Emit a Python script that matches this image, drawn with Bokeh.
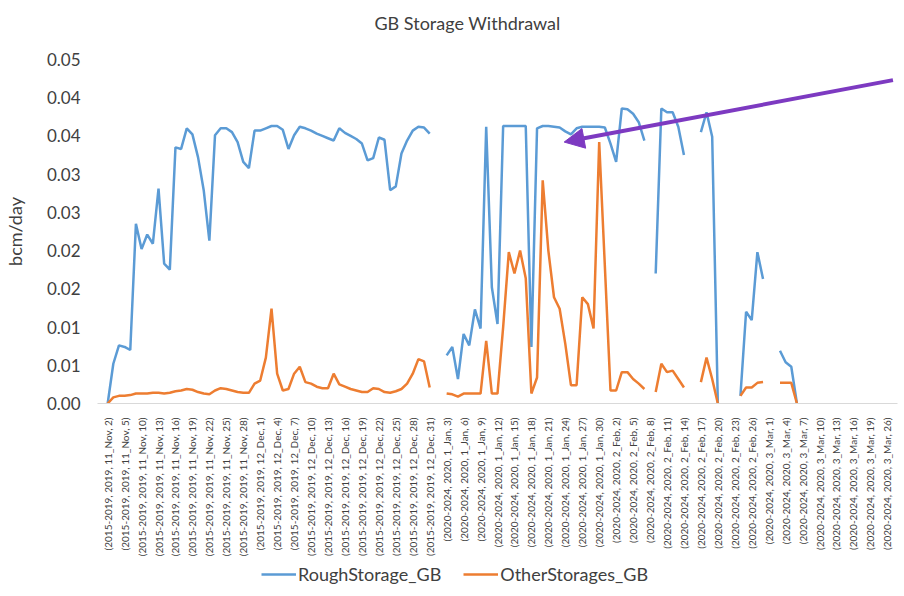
import numpy as np
from bokeh.plotting import figure
from bokeh.layouts import column
from bokeh.models import (Range1d, FixedTicker, Legend, LegendItem, Arrow,
                          NormalHead, Label, ColumnDataSource)
from bokeh.embed import file_html
from bokeh.resources import INLINE

nan = float("nan")

# ---- categories (period, year, month, day) ----
nov_days = [2, 3, 4, 5, 8, 9] + list(range(10, 31))
dec_days = list(range(1, 32))
jan_days = list(range(1, 32))
feb_days = list(range(1, 29))
mar_days = list(range(1, 20)) + [21, 24, 26]

categories = (
    [f"(2015-2019, 2019, 11_Nov, {d})" for d in nov_days]
    + [f"(2015-2019, 2019, 12_Dec, {d})" for d in dec_days]
    + [f"(2020-2024, 2020, 1_Jan, {d})" for d in jan_days]
    + [f"(2020-2024, 2020, 2_Feb, {d})" for d in feb_days]
    + [f"(2020-2024, 2020, 3_Mar, {d})" for d in mar_days]
)

# ---- series values (bcm/day) ----
rough_storage_gb = [
    0.0, 0.0052, 0.0076, 0.0074, 0.0070, 0.0235, 0.0202, 0.0221, 0.0209, 0.0281,
    0.0183, 0.0175, 0.0335, 0.0333, 0.0360, 0.0352, 0.0322, 0.0279, 0.0213, 0.0351,
    0.0360, 0.0360, 0.0355, 0.0342, 0.0316, 0.0308, 0.0357, 0.0357, 0.0360, 0.0363,
    0.0363, 0.0358, 0.0333, 0.0351, 0.0362, 0.0360, 0.0357, 0.0353, 0.0350, 0.0347,
    0.0344, 0.0360, 0.0354, 0.0350, 0.0346, 0.0340, 0.0318, 0.0321, 0.0348, 0.0345,
    0.0279, 0.0284, 0.0327, 0.0344, 0.0357, 0.0362, 0.0361, 0.0353,
    nan, nan,
    0.0063, 0.0074, 0.0032, 0.0091, 0.0076, 0.0123, 0.0098, 0.0362, 0.0152, 0.0104,
    0.0363, 0.0363, 0.0363, 0.0363, 0.0363, 0.0074, 0.0360, 0.0363, 0.0363, 0.0362,
    0.0361, 0.0356, 0.0352, 0.0360, 0.0362, 0.0362, 0.0362, 0.0362, 0.0361, 0.0340,
    0.0316, 0.0386, 0.0385, 0.0379, 0.0368, 0.0344, nan, 0.0170, 0.0386, 0.0381,
    0.0381, 0.0362, 0.0325, nan, nan, 0.0355, 0.0381, 0.0349, 0.0, nan,
    nan, nan, 0.0010, 0.0120, 0.0109, 0.0198, 0.0163, nan, nan, 0.0069,
    0.0054, 0.0048, 0.0,
    nan, nan, nan, nan, nan, nan, nan, nan, nan, nan, nan, nan, nan, nan, nan, nan,
]

other_storages_gb = [
    0.0, 0.0008, 0.0010, 0.0010, 0.0011, 0.0013, 0.0013, 0.0013, 0.0014, 0.0014,
    0.0013, 0.0014, 0.0016, 0.0017, 0.0019, 0.0018, 0.0015, 0.0013, 0.0012, 0.0017,
    0.0020, 0.0019, 0.0017, 0.0015, 0.0014, 0.0014, 0.0026, 0.0030, 0.0060, 0.0124,
    0.0039, 0.0017, 0.0019, 0.0039, 0.0048, 0.0028, 0.0026, 0.0022, 0.0020, 0.0020,
    0.0039, 0.0025, 0.0022, 0.0019, 0.0017, 0.0015, 0.0015, 0.0020, 0.0019, 0.0015,
    0.0014, 0.0016, 0.0019, 0.0026, 0.0039, 0.0058, 0.0055, 0.0021,
    nan, nan,
    0.0013, 0.0012, 0.0009, 0.0013, 0.0013, 0.0013, 0.0013, 0.0082, 0.0013, 0.0013,
    0.0100, 0.0198, 0.0170, 0.0200, 0.0164, 0.0013, 0.0034, 0.0292, 0.0200, 0.0139,
    0.0124, 0.0078, 0.0024, 0.0024, 0.0139, 0.0130, 0.0098, 0.0342, 0.0180, 0.0017,
    0.0017, 0.0041, 0.0041, 0.0032, 0.0026, 0.0019, nan, 0.0015, 0.0052, 0.0041,
    0.0043, 0.0032, 0.0021, nan, nan, 0.0028, 0.0060, 0.0032, 0.0, nan,
    nan, nan, 0.0010, 0.0021, 0.0021, 0.0027, 0.0028, nan, nan, 0.0027,
    0.0027, 0.0027, 0.0,
    nan, nan, nan, nan, nan, nan, nan, nan, nan, nan, nan, nan, nan, nan, nan, nan,
]

y_ticks = [0.0, 0.005, 0.01, 0.015, 0.02, 0.025, 0.03, 0.035, 0.04, 0.045]
y_tick_labels = ["0.00", "0.01", "0.01", "0.02", "0.02", "0.03", "0.03", "0.04", "0.04", "0.05"]
x_label_step = 3
title_text = "GB Storage Withdrawal"
series_names = ["RoughStorage_GB", "OtherStorages_GB"]
series_colors = ["#5B9BD5", "#ED7D31"]

FONT = "Lato"
TXT = "#404040"
FW, BL, BR = 800, 89, 7

idx = list(range(len(categories)))
src = ColumnDataSource(dict(
    x=idx,
    rough=np.array(rough_storage_gb, dtype=float),
    other=np.array(other_storages_gb, dtype=float),
))

# ---------- title strip ----------
HEAD_H = 40
head = figure(frame_width=FW, frame_height=HEAD_H, output_backend="svg",
              toolbar_location=None, x_axis_type=None, y_axis_type=None,
              x_range=Range1d(0, FW), y_range=Range1d(HEAD_H, 0),
              min_border_left=BL, min_border_right=BR,
              min_border_top=0, min_border_bottom=0)
head.outline_line_color = None
head.grid.visible = False
head.add_layout(Label(x=370, y=22, text=title_text, text_align="center",
                      text_baseline="middle", text_font=FONT,
                      text_font_size="18px", text_color=TXT))

# ---------- main plot ----------
p = figure(frame_width=FW, frame_height=344, output_backend="svg", toolbar_location=None,
           x_range=Range1d(-1.8, len(categories) + 0.8), y_range=Range1d(0, 0.045),
           min_border_left=BL, min_border_right=BR, min_border_top=59 - HEAD_H,
           min_border_bottom=150)
p.outline_line_color = None
p.xgrid.grid_line_color = None
p.ygrid.grid_line_color = None

r1 = p.line("x", "rough", source=src, line_color=series_colors[0], line_width=2.5)
r2 = p.line("x", "other", source=src, line_color=series_colors[1], line_width=2.5)

ya = p.yaxis[0]
ya.ticker = FixedTicker(ticks=y_ticks)
ya.major_label_overrides = {v: s for v, s in zip(y_ticks, y_tick_labels)}
ya.axis_line_color = None
ya.major_tick_line_color = None
ya.minor_tick_line_color = None
ya.major_label_standoff = 11
ya.major_label_text_font = FONT
ya.major_label_text_font_size = "17px"
ya.major_label_text_color = TXT
ya.axis_label = "bcm/day"
ya.axis_label_text_font = FONT
ya.axis_label_text_font_size = "18px"
ya.axis_label_text_font_style = "normal"
ya.axis_label_text_color = TXT
ya.axis_label_standoff = 18

xa = p.xaxis[0]
xt = idx[::x_label_step]
xa.ticker = FixedTicker(ticks=xt)
xa.major_label_overrides = {i: categories[i] for i in xt}
xa.major_label_orientation = np.pi / 2
xa.axis_line_color = "#D9D9D9"
xa.axis_line_width = 1
xa.major_tick_line_color = None
xa.minor_tick_line_color = None
xa.major_label_standoff = 8
xa.major_label_text_font = FONT
xa.major_label_text_font_size = "10px"
xa.major_label_text_color = TXT

arrow = Arrow(end=NormalHead(size=20, fill_color="#7D3AC1", line_color="#7D3AC1"),
              x_start=139.0, y_start=0.0423, x_end=80.8, y_end=0.0342,
              line_color="#7D3AC1", line_width=4)
p.add_layout(arrow)

# ---------- legend strip ----------
FOOT_H = 43
foot = figure(frame_width=FW, frame_height=FOOT_H, output_backend="svg",
              toolbar_location=None, x_axis_type=None, y_axis_type=None,
              x_range=Range1d(0, 1), y_range=Range1d(0, 1),
              min_border_left=BL, min_border_right=BR,
              min_border_top=0, min_border_bottom=0)
foot.outline_line_color = None
foot.grid.visible = False
key_src = ColumnDataSource(dict(x=[0.0], y=[nan]))
k1 = foot.line("x", "y", source=key_src, line_color=series_colors[0], line_width=2.5)
k2 = foot.line("x", "y", source=key_src, line_color=series_colors[1], line_width=2.5)
legend = Legend(items=[LegendItem(label=series_names[0], renderers=[k1]),
                       LegendItem(label=series_names[1], renderers=[k2])],
                orientation="horizontal", location=(229, 17),
                border_line_color=None, background_fill_alpha=0,
                label_text_font=FONT, label_text_font_size="18px",
                label_text_color=TXT, glyph_width=35, glyph_height=20,
                label_standoff=2, spacing=22, padding=0, margin=0)
foot.add_layout(legend, "center")

layout = column(head, p, foot, spacing=0)
open("out.html", "w").write(file_html(layout, INLINE))
